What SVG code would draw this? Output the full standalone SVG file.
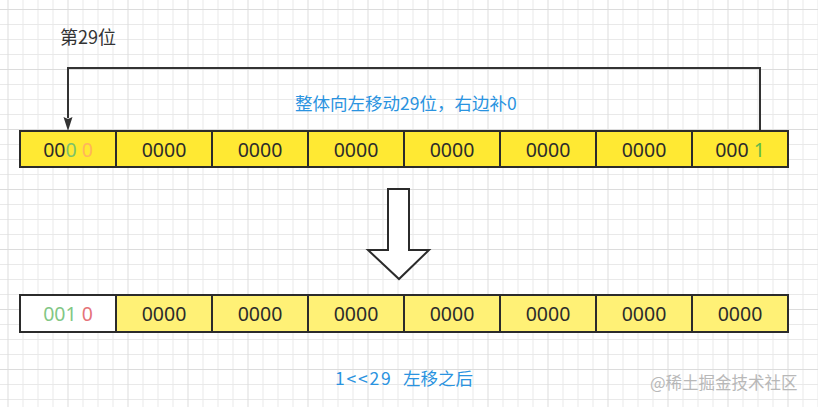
<svg xmlns="http://www.w3.org/2000/svg" width="818" height="407" viewBox="0 0 818 407">
<defs>
<pattern id="g" x="7.5" y="9" width="60" height="60" patternUnits="userSpaceOnUse">
<path d="M0 15.5H60M0 30.5H60M0 45.5H60M15.5 0V60M30.5 0V60M45.5 0V60" stroke="#e9e9e9" stroke-width="1" fill="none"/>
<path d="M0 0.5H60M0.5 0V60" stroke="#dcdcdc" stroke-width="1" fill="none"/>
</pattern>
<marker id="ah" markerWidth="10" markerHeight="14" refX="5" refY="13" orient="auto" markerUnits="userSpaceOnUse" viewBox="0 0 10 14">
<path d="M0.5 0L5 13.5L9.5 0L5 2Z" fill="#333"/>
</marker>
<style>
.c1{fill:#ffe933;stroke:#2b2b2b;stroke-width:2}
.c2{fill:#fff176;stroke:#2b2b2b;stroke-width:2}
.c0{fill:#ffffff;stroke:#2b2b2b;stroke-width:2}
.t{font-family:"Noto Sans","Liberation Sans",sans-serif;font-size:19.5px;fill:#2b2b2b;text-anchor:middle}
.cn{font-family:"Microsoft YaHei","Noto Sans CJK SC",sans-serif}
</style>
</defs>
<rect width="818" height="407" fill="#ffffff"/>
<rect width="818" height="407" fill="url(#g)"/>

<g id="label-29"><text x="60" y="44" class="cn" font-size="18" fill="#333">第29位</text></g>

<g id="connectors">
<path d="M760 131V68H68V118" fill="none" stroke="#333" stroke-width="2"/>
<path d="M63.5 117L68 131L72.5 117L68 119Z" fill="#333"/>
</g>

<g id="shift-label"><text x="295" y="110" class="cn" font-size="17.5" fill="#2a93e0">整体向左移动29位，右边补0</text></g>

<g id="top-row">
<g id="t1"><rect x="20" y="131" width="96" height="36" class="c1"/><text x="68" y="157" class="t">00<tspan fill="#7cc26a">0</tspan> <tspan fill="#ffb55c">0</tspan></text></g>
<g id="t2"><rect x="116" y="131" width="96" height="36" class="c1"/><text x="164" y="157" class="t">0000</text></g>
<g id="t3"><rect x="212" y="131" width="96" height="36" class="c1"/><text x="260" y="157" class="t">0000</text></g>
<g id="t4"><rect x="308" y="131" width="96" height="36" class="c1"/><text x="356" y="157" class="t">0000</text></g>
<g id="t5"><rect x="404" y="131" width="96" height="36" class="c1"/><text x="452" y="157" class="t">0000</text></g>
<g id="t6"><rect x="500" y="131" width="96" height="36" class="c1"/><text x="548" y="157" class="t">0000</text></g>
<g id="t7"><rect x="596" y="131" width="96" height="36" class="c1"/><text x="644" y="157" class="t">0000</text></g>
<g id="t8"><rect x="692" y="131" width="96" height="36" class="c1"/><text x="740" y="157" class="t">000 <tspan fill="#5cb84a">1</tspan></text></g>
</g>

<g id="down-arrow"><path d="M388 189H409V250H429L399 279L368 250H388Z" fill="#fff" stroke="#2b2b2b" stroke-width="2" stroke-linejoin="miter"/></g>

<g id="bottom-row">
<g id="b1"><rect x="20" y="295" width="96" height="37" class="c0"/><text x="68" y="321" class="t"><tspan fill="#82c785">001</tspan> <tspan fill="#e5737a">0</tspan></text></g>
<g id="b2"><rect x="116" y="295" width="96" height="37" class="c2"/><text x="164" y="321" class="t">0000</text></g>
<g id="b3"><rect x="212" y="295" width="96" height="37" class="c2"/><text x="260" y="321" class="t">0000</text></g>
<g id="b4"><rect x="308" y="295" width="96" height="37" class="c2"/><text x="356" y="321" class="t">0000</text></g>
<g id="b5"><rect x="404" y="295" width="96" height="37" class="c2"/><text x="452" y="321" class="t">0000</text></g>
<g id="b6"><rect x="500" y="295" width="96" height="37" class="c2"/><text x="548" y="321" class="t">0000</text></g>
<g id="b7"><rect x="596" y="295" width="96" height="37" class="c2"/><text x="644" y="321" class="t">0000</text></g>
<g id="b8"><rect x="692" y="295" width="96" height="37" class="c2"/><text x="740" y="321" class="t">0000</text></g>
</g>

<g id="result-label">
<text x="335" y="385" class="cn" font-size="17.5" fill="#2a93e0" letter-spacing="1.8">1&lt;&lt;29</text>
<text x="403" y="385" class="cn" font-size="17.5" fill="#2a93e0">左移之后</text>
</g>

<g id="watermark"><text x="650" y="389" class="cn" font-size="16.5" fill="#b8b8b8">@稀土掘金技术社区</text></g>
</svg>
